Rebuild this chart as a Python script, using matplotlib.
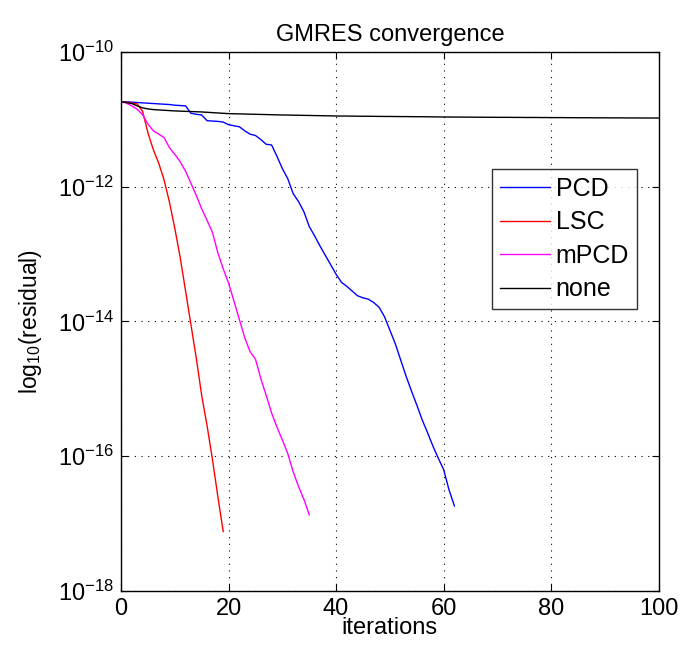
#!/usr/bin/env python3
"""GMRES convergence history for different preconditioners."""
import numpy as np
import matplotlib
matplotlib.use("Agg")
import matplotlib.pyplot as plt

plt.rcParams["font.family"] = ["Liberation Sans", "DejaVu Sans"]
plt.rcParams["mathtext.fontset"] = "custom"
plt.rcParams["mathtext.rm"] = "Liberation Sans"
plt.rcParams["mathtext.it"] = "Liberation Sans:italic"

# log10 of residual per iteration
PCD = [-10.737, -10.74, -10.745, -10.75, -10.755, -10.76, -10.765, -10.77, -10.775, -10.78,
       -10.79, -10.795, -10.80, -10.91, -10.925, -10.935, -11.02, -11.025, -11.03, -11.04,
       -11.08, -11.095, -11.11, -11.17, -11.22, -11.24, -11.30, -11.37, -11.38, -11.55,
       -11.73, -11.88, -12.10, -12.22, -12.37, -12.59, -12.73, -12.88, -13.02, -13.16,
       -13.30, -13.42, -13.48, -13.55, -13.62, -13.65, -13.67, -13.72, -13.79, -13.93,
       -14.13, -14.33, -14.57, -14.81, -15.03, -15.24, -15.46, -15.65, -15.85, -16.03,
       -16.20, -16.50, -16.74]
LSC = [-10.737, -10.745, -10.76, -10.77, -10.88, -11.20, -11.45, -11.65, -11.90, -12.23,
       -12.62, -13.05, -13.55, -14.05, -14.55, -15.10, -15.55, -16.05, -16.60, -17.12]
MPCD = [-10.737, -10.76, -10.80, -10.85, -10.93, -11.07, -11.17, -11.22, -11.27, -11.42,
        -11.52, -11.63, -11.77, -11.95, -12.13, -12.33, -12.50, -12.68, -12.98, -13.22,
        -13.43, -13.70, -13.97, -14.24, -14.45, -14.56, -14.85, -15.10, -15.36, -15.57,
        -15.76, -15.96, -16.23, -16.45, -16.64, -16.87]
NONE = [-10.737, -10.75, -10.765, -10.80, -10.83, -10.845, -10.855, -10.86, -10.865, -10.87,
        -10.875, -10.878, -10.881, -10.884, -10.887, -10.89, -10.895, -10.90, -10.905, -10.91,
        -10.915, -10.917, -10.919, -10.921, -10.923, -10.925, -10.927, -10.929, -10.931, -10.933,
        -10.935, -10.936, -10.938, -10.939, -10.941, -10.942, -10.944, -10.945, -10.947, -10.948,
        -10.950, -10.951, -10.951, -10.952, -10.953, -10.954, -10.954, -10.955, -10.956, -10.957,
        -10.957, -10.958, -10.959, -10.959, -10.960, -10.961, -10.961, -10.962, -10.963, -10.964,
        -10.965, -10.965, -10.966, -10.966, -10.967, -10.967, -10.968, -10.968, -10.969, -10.969,
        -10.970, -10.970, -10.970, -10.971, -10.971, -10.972, -10.972, -10.972, -10.973, -10.973,
        -10.974, -10.974, -10.974, -10.975, -10.975, -10.976, -10.976, -10.976, -10.977, -10.977,
        -10.977, -10.978, -10.978, -10.978, -10.979, -10.979, -10.979, -10.980, -10.980, -10.980,
        -10.980]

SERIES = [("PCD", PCD, "#0000ff"), ("LSC", LSC, "#ff0000"),
          ("mPCD", MPCD, "#ff00ff"), ("none", NONE, "#000000")]
YTICKS = [-18, -16, -14, -12, -10]
XTICKS = [0, 20, 40, 60, 80, 100]


def main():
    fig = plt.figure(figsize=(6.84, 6.5), dpi=100)
    ax = fig.add_axes([0.177, 0.091, 0.786, 0.829])

    for name, vals, color in SERIES:
        ax.semilogy(np.arange(len(vals)), 10.0 ** np.array(vals), color=color,
                    linewidth=1.0, label=name)

    ax.set_xlim(0, 100)
    ax.set_ylim(1e-18, 1e-10)
    ax.set_xticks(XTICKS)
    ax.set_yticks([10.0 ** t for t in YTICKS])
    ax.set_yticklabels([rf"$10^{{{t}}}$" for t in YTICKS])
    ax.minorticks_off()
    ax.tick_params(direction="in", top=True, right=True, labelsize=17, length=5, width=0.8, pad=5)
    ax.grid(True, which="major", color="black", linestyle=(0, (1, 5)), linewidth=0.8)
    for s in ax.spines.values():
        s.set_linewidth(1.0)

    ax.set_xlabel("iterations", fontsize=17, labelpad=-2)
    ax.set_ylabel(r"log$_{10}$(residual)", fontsize=16.5, labelpad=10)
    ax.set_title("GMRES convergence", fontsize=17, pad=8)

    leg = ax.legend(loc="upper left", bbox_to_anchor=(0.69, 0.782), fontsize=18,
                    frameon=True, fancybox=False, edgecolor="black", handlelength=2.0,
                    borderpad=0.3, labelspacing=0.38, handletextpad=0.25, borderaxespad=0)
    leg.get_frame().set_linewidth(1.0)

    fig.savefig("out.png", dpi=100)


if __name__ == "__main__":
    main()
